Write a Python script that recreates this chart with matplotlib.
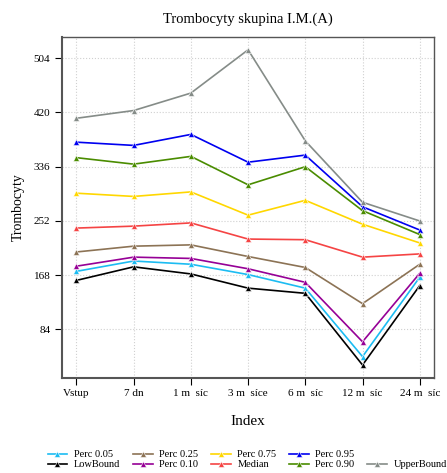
import matplotlib
matplotlib.use("Agg")
import matplotlib.pyplot as plt
from matplotlib.lines import Line2D

plt.rcParams["font.family"] = ["Liberation Serif", "DejaVu Serif"]

# Kategorie na ose x
kategorie = ["Vstup", "7 dn", "1 m  síc", "3 m  síce", "6 m  síc", "12 m  síc", "24 m  síc"]

# Hodnoty jednotlivých řad
low_bound = [160, 181, 170, 148, 140, 29, 152]
perc_005 = [174, 190, 185, 169, 148, 42, 165]
perc_010 = [182, 196, 194, 178, 157, 65, 171]
perc_025 = [204, 213, 215, 197, 180, 124, 185]
median = [241, 244, 249, 224, 223, 196, 201]
perc_075 = [295, 290, 297, 261, 284, 247, 218]
perc_090 = [350, 340, 352, 308, 336, 268, 231]
perc_095 = [374, 369, 386, 343, 354, 274, 238]
upper_bound = [411, 423, 450, 517, 376, 281, 252]

serie = [
    ("Perc 0.05", perc_005, "#1cbcf2"),
    ("LowBound", low_bound, "#000000"),
    ("Perc 0.25", perc_025, "#8c7355"),
    ("Perc 0.10", perc_010, "#960096"),
    ("Perc 0.75", perc_075, "#ffd700"),
    ("Median", median, "#f54444"),
    ("Perc 0.95", perc_095, "#0000f0"),
    ("Perc 0.90", perc_090, "#4a8c00"),
    ("UpperBound", upper_bound, "#858c88"),
]

fig = plt.figure(figsize=(4.47, 4.73), dpi=100)
ax = fig.add_axes([0.139, 0.201, 0.832, 0.721])

x = list(range(len(kategorie)))
handles = []
labels = []
for nazev, hodnoty, barva in serie:
    ln, = ax.plot(x, hodnoty, color=barva, lw=1.2, marker="^", ms=5,
                  mec="white", mew=0.4, label=nazev)
    handles.append(ln)
    labels.append(nazev)

# prázdná položka, aby UpperBound skončil ve druhém řádku
handles.insert(8, Line2D([], [], color="none"))
labels.insert(8, "")

ax.set_xlim(-0.25, 6.25)
ax.set_ylim(9, 537)
ax.set_yticks([84, 168, 252, 336, 420, 504])
ax.set_xticks(x)
ax.set_xticklabels(kategorie, fontsize=8)
ax.tick_params(axis="y", labelsize=8, direction="out", length=5)
ax.tick_params(axis="x", direction="out", length=5, pad=3)
ax.grid(True, color="#d0d0d0", linestyle=":", linewidth=0.8)
for s in ax.spines.values():
    s.set_color("#555555")
    s.set_linewidth(1.0)
ax.spines["left"].set_linewidth(1.5)
ax.spines["bottom"].set_linewidth(1.5)

ax.set_title("Trombocyty skupina I.M.(A)", fontsize=10.5, pad=10)
ax.set_xlabel("Index", fontsize=11, labelpad=12)
ax.set_ylabel("Trombocyty", fontsize=10, labelpad=6)

fig.legend(handles, labels, loc="lower center", bbox_to_anchor=(0.553, -0.012),
           ncol=5, frameon=False, fontsize=7.5, handlelength=1.9,
           columnspacing=1.18, handletextpad=0.65, labelspacing=0.05)

fig.savefig("out.png", dpi=100)
